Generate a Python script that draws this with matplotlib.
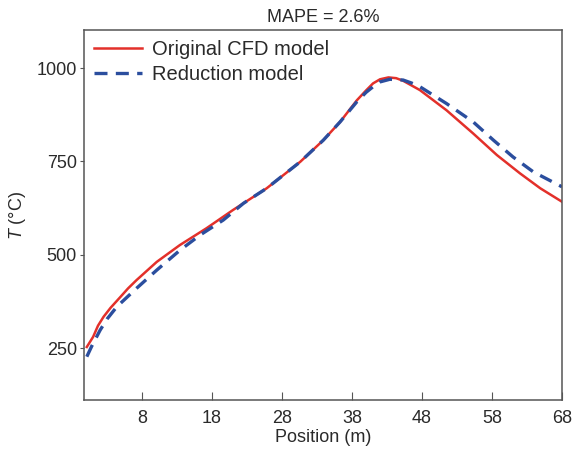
import matplotlib
matplotlib.use('Agg')
import matplotlib.pyplot as plt

plt.rcParams['font.family'] = ['Liberation Sans', 'DejaVu Sans']
plt.rcParams['mathtext.fontset'] = 'custom'
plt.rcParams['mathtext.it'] = 'Liberation Sans:italic'
plt.rcParams['mathtext.rm'] = 'Liberation Sans'
plt.rcParams['text.color'] = '#2a2a2a'
plt.rcParams['axes.labelcolor'] = '#2a2a2a'

# Original CFD model
cfd_x = [0.1, 0.6, 1.0, 1.7, 2.5, 3.5, 4.9, 6.0, 7.2, 10.1, 13.4, 17.2, 21.0,
         25.8, 30.6, 33.9, 36.3, 38.7, 40.0, 41.0, 42.0, 43.2, 44.3, 45.3,
         47.7, 51.5, 55.3, 58.7, 62.0, 64.9, 68.0]
cfd_t = [253, 268, 280, 310, 334, 358, 387, 410, 432, 481, 526, 571, 620,
         678, 749, 807, 856, 914, 940, 959, 970, 975, 973, 966,
         941, 887, 825, 767, 718, 678, 642]

# Reduction model
red_x = [0.1, 0.8, 2.0, 3.0, 4.4, 7.2, 10.1, 13.4, 16.3, 19.6, 22.5, 25.8,
         30.6, 33.9, 36.3, 38.7, 40.0, 41.0, 42.0, 43.4, 45.3, 46.5, 47.7,
         51.5, 55.3, 58.2, 61.0, 63.9, 68.0]
red_t = [227, 255, 298, 328, 361, 410, 459, 512, 553, 593, 638, 678,
         749, 807, 856, 910, 935, 950, 963, 970, 968, 960, 950,
         905, 856, 807, 762, 722, 682]

xticks = [8, 18, 28, 38, 48, 58, 68]
yticks = [250, 500, 750, 1000]

fig = plt.figure(figsize=(5.75, 4.5), dpi=100)
ax = fig.add_axes([84 / 575, 50 / 450, 478 / 575, 370 / 450])

ax.plot(cfd_x, cfd_t, color='#e3302a', lw=1.8, label='Original CFD model')
ax.plot(red_x, red_t, color='#2b4e9e', lw=2.4, dashes=(3.9, 2.5), label='Reduction model')

ax.set_xlim(-0.3, 68)
ax.set_ylim(111, 1102)
ax.set_xticks(xticks)
ax.set_yticks(yticks)
ax.tick_params(axis='x', direction='in', length=6, labelsize=13, colors='#555555',
               labelcolor='#2a2a2a', pad=7)
ax.tick_params(axis='y', direction='out', length=3, labelsize=13, colors='#555555',
               labelcolor='#2a2a2a', pad=2)
for s in ax.spines.values():
    s.set_color('#555555')
    s.set_linewidth(1.1)

ax.set_xlabel('Position (m)', fontsize=13, labelpad=2)
ax.set_ylabel('$T$ (°C)', fontsize=13, labelpad=6)
ax.set_title('MAPE = 2.6%', fontsize=13, pad=6)

ax.legend(loc='upper left', frameon=False, fontsize=14.5, handlelength=2.4,
          handletextpad=0.5, borderaxespad=0.2, borderpad=0.3, labelspacing=0.3)

fig.savefig('out.png', dpi=100)
